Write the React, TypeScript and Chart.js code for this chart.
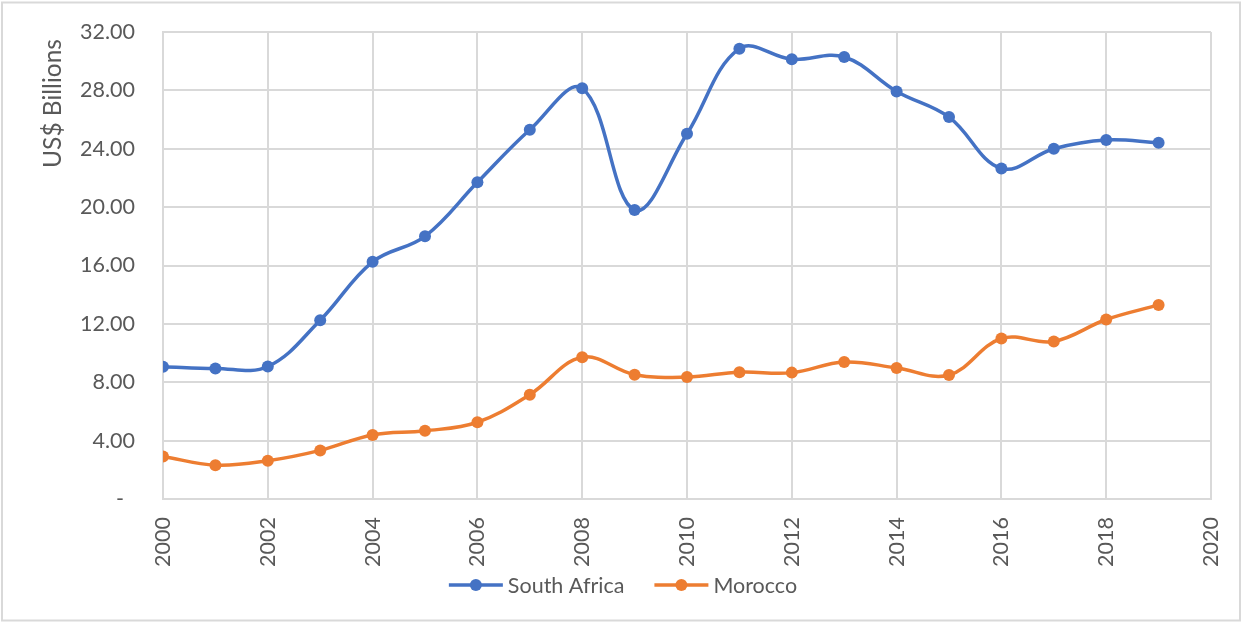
import React, { useEffect, useRef } from 'react';
import { Chart, registerables } from 'chart.js';

Chart.register(...registerables);

const years = [2000, 2001, 2002, 2003, 2004, 2005, 2006, 2007, 2008, 2009, 2010, 2011, 2012, 2013, 2014, 2015, 2016, 2017, 2018, 2019];
const southAfrica = [9.07, 8.95, 9.08, 12.25, 16.25, 18.0, 21.7, 25.3, 28.14, 19.8, 25.03, 30.86, 30.13, 30.29, 27.93, 26.17, 22.65, 24.0, 24.6, 24.41];
const morocco = [2.92, 2.32, 2.62, 3.33, 4.39, 4.67, 5.26, 7.15, 9.71, 8.52, 8.36, 8.69, 8.66, 9.39, 8.98, 8.5, 11.0, 10.8, 12.3, 13.3];
const seriesNames = ['South Africa', 'Morocco'];
const seriesColors = ['#4472C4', '#ED7D31'];
const xMin = 2000;
const xMax = 2020;
const xStep = 2;
const yMin = 0;
const yMax = 32;
const yStep = 4;
const yAxisTitle = 'US$ Billions';

const FONT = 'Lato, "Open Sans", sans-serif';
const TEXT = '#595959';
const GRID = '#d9d9d9';
const TICK_SIZE = 21.5;

const decorPlugin = {
  id: 'decor',
  beforeDraw(chart: any) {
    const ctx = chart.ctx;
    ctx.save();
    ctx.fillStyle = '#ffffff';
    ctx.fillRect(0, 0, chart.width, chart.height);
    ctx.strokeStyle = GRID;
    ctx.lineWidth = 2;
    ctx.strokeRect(2, 2.5, chart.width - 4, chart.height - 4);
    ctx.restore();
  },
  afterDraw(chart: any) {
    const ctx = chart.ctx;
    ctx.save();
    ctx.font = `24.5px ${FONT}`;
    ctx.fillStyle = TEXT;
    ctx.translate(53, 103.5);
    ctx.rotate(-Math.PI / 2);
    ctx.textAlign = 'center';
    ctx.textBaseline = 'middle';
    ctx.fillText(yAxisTitle, 0, 0);
    ctx.restore();

    // legend
    ctx.save();
    ctx.font = `${TICK_SIZE}px ${FONT}`;
    const lineLen = 54;
    const gapText = 5;
    const gapItem = 30;
    const ds = chart.data.datasets;
    const widths = ds.map((d: any) => lineLen + gapText + ctx.measureText(d.label).width);
    const total = widths.reduce((a: number, b: number) => a + b, 0) + gapItem * (ds.length - 1);
    let x = chart.width / 2 - total / 2 + 2;
    const y = 585;
    ds.forEach((d: any, i: number) => {
      ctx.strokeStyle = d.borderColor;
      ctx.lineWidth = 3.5;
      ctx.beginPath();
      ctx.moveTo(x, y);
      ctx.lineTo(x + lineLen, y);
      ctx.stroke();
      ctx.fillStyle = d.borderColor;
      ctx.beginPath();
      ctx.arc(x + lineLen / 2, y, 6, 0, Math.PI * 2);
      ctx.fill();
      ctx.fillStyle = TEXT;
      ctx.textAlign = 'left';
      ctx.textBaseline = 'middle';
      ctx.fillText(d.label, x + lineLen + gapText, y + 1);
      x += widths[i] + gapItem;
    });
    ctx.restore();
  },
};

export default function App() {
  const ref = useRef<HTMLCanvasElement | null>(null);
  useEffect(() => {
    document.body.style.margin = '0';
    const seriesValues = [southAfrica, morocco];
    const chart = new Chart(ref.current as HTMLCanvasElement, {
      type: 'line',
      data: {
        datasets: seriesValues.map((vals, i) => ({
          label: seriesNames[i],
          data: years.map((yr, j) => ({ x: yr, y: vals[j] })),
          borderColor: seriesColors[i],
          backgroundColor: seriesColors[i],
          borderWidth: 3.5,
          pointRadius: 6,
          pointHoverRadius: 6,
          pointBorderWidth: 0,
          tension: 0.38,
          fill: false,
        })),
      },
      options: {
        animation: false,
        responsive: true,
        maintainAspectRatio: false,
        layout: { padding: { top: 32, right: 31, bottom: 0, left: 0 } },
        plugins: {
          legend: { display: false },
          tooltip: { enabled: false },
        },
        scales: {
          x: {
            type: 'linear',
            min: xMin,
            max: xMax,
            grid: { color: GRID, lineWidth: 2, drawTicks: false },
            border: { color: GRID, width: 2 },
            ticks: {
              stepSize: xStep,
              minRotation: 90,
              maxRotation: 90,
              padding: 18,
              color: TEXT,
              font: { family: FONT, size: TICK_SIZE },
              callback: (v: any) => String(v),
            },
            afterFit: (s: any) => {
              s.height = 123;
              s.paddingLeft = 0;
              s.paddingRight = 0;
              s.paddingTop = 0;
              s.paddingBottom = 0;
            },
          },
          y: {
            min: yMin,
            max: yMax,
            grid: { color: GRID, lineWidth: 2, drawTicks: false },
            border: { color: GRID, width: 2 },
            ticks: {
              stepSize: yStep,
              padding: 28,
              color: TEXT,
              font: { family: FONT, size: TICK_SIZE },
              callback: (v: any) => (v === 0 ? '-  ' : Number(v).toFixed(2)),
            },
            afterFit: (s: any) => {
              s.width = 163;
              s.paddingLeft = 0;
              s.paddingRight = 0;
              s.paddingTop = 0;
              s.paddingBottom = 0;
            },
          },
        },
      },
      plugins: [decorPlugin],
    });
    return () => chart.destroy();
  }, []);
  return (
    <div style={{ width: 1242, height: 622, position: 'relative' }}>
      <canvas ref={ref} />
    </div>
  );
}
